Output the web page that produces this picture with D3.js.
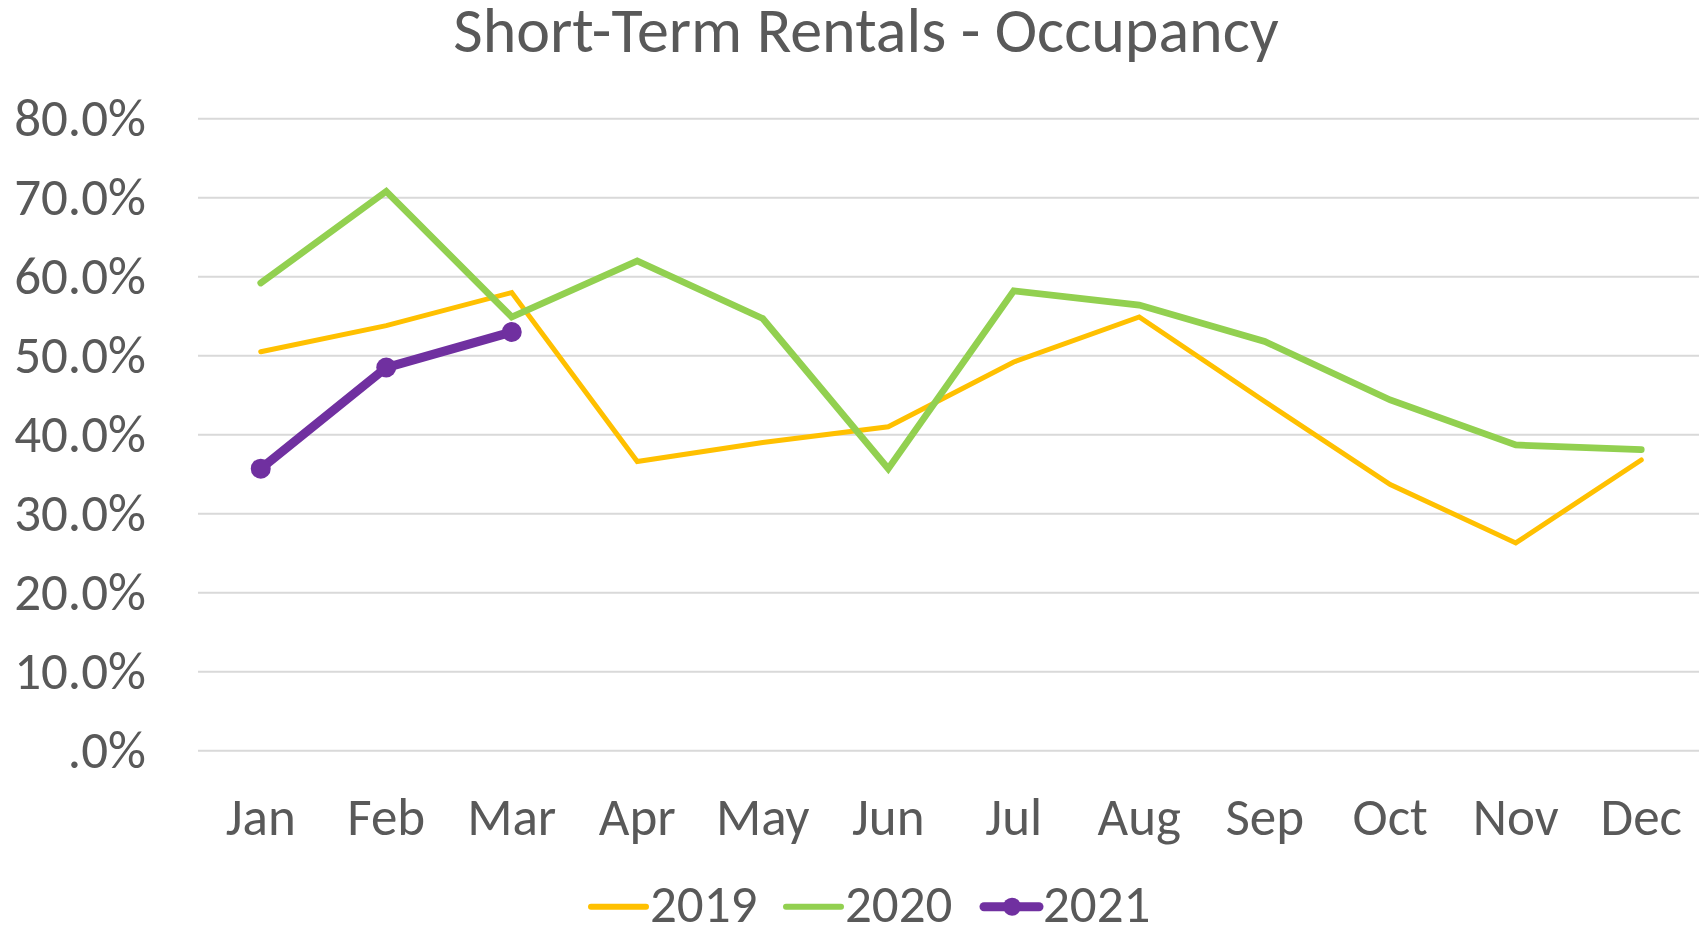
<!DOCTYPE html>
<html>
<head>
  <meta charset="utf-8">
  <script src="https://cdn.jsdelivr.net/npm/d3@7"></script>
  <style>
    body { margin: 0; background: #fff; }
    svg text { font-family: Carlito, "Open Sans", sans-serif; fill: #595959; }
  </style>
</head>
<body>
<script>
  // chart data
  var months = ["Jan", "Feb", "Mar", "Apr", "May", "Jun", "Jul", "Aug", "Sep", "Oct", "Nov", "Dec"];
  var occ2019 = [50.5, 53.8, 58.0, 36.6, 39.0, 41.0, 49.2, 54.9, 44.2, 33.7, 26.3, 36.8];
  var occ2020 = [59.2, 70.8, 54.9, 62.0, 54.7, 35.7, 58.2, 56.4, 51.8, 44.4, 38.7, 38.1];
  var occ2021 = [35.7, 48.5, 53.0];
  var yTicks = [0, 10, 20, 30, 40, 50, 60, 70, 80];
  var seriesNames = ["2019", "2020", "2021"];

  var width = 1699, height = 929;
  var colors = { "2019": "#FFC000", "2020": "#92D050", "2021": "#7030A0" };
  var strokes = { "2019": 5, "2020": 6.7, "2021": 9 };

  var svg = d3.select("body").append("svg")
    .attr("width", width)
    .attr("height", height);

  var x = d3.scaleBand().domain(months).range([198, 1704]);
  var y = d3.scaleLinear().domain([0, 80]).range([750.7, 118.7]);
  function cx(m) { return x(m) + x.bandwidth() / 2; }

  // title
  svg.append("text")
    .attr("x", 866)
    .attr("y", 52)
    .attr("text-anchor", "middle")
    .style("font-size", "64px")
    .text("Short-Term Rentals - Occupancy");

  // gridlines
  svg.append("g").selectAll("line")
    .data(yTicks)
    .enter().append("line")
    .attr("x1", 198).attr("x2", width)
    .attr("y1", function(d) { return y(d); })
    .attr("y2", function(d) { return y(d); })
    .attr("stroke", "#D9D9D9")
    .attr("stroke-width", 2);

  // y labels
  svg.append("g").selectAll("text")
    .data(yTicks)
    .enter().append("text")
    .attr("x", 146)
    .attr("y", function(d) { return y(d) + 17; })
    .attr("text-anchor", "end")
    .style("font-size", "53px")
    .text(function(d) { return d === 0 ? ".0%" : d.toFixed(1) + "%"; });

  // x labels
  svg.append("g").selectAll("text")
    .data(months)
    .enter().append("text")
    .attr("x", function(d) { return cx(d); })
    .attr("y", 835)
    .attr("text-anchor", "middle")
    .style("font-size", "53px")
    .text(function(d) { return d; });

  var line = d3.line()
    .x(function(d, i) { return cx(months[i]); })
    .y(function(d) { return y(d); });

  var series = [
    { name: "2019", values: occ2019 },
    { name: "2020", values: occ2020 },
    { name: "2021", values: occ2021 }
  ];

  svg.append("g").selectAll("path")
    .data(series)
    .enter().append("path")
    .attr("d", function(s) { return line(s.values); })
    .attr("fill", "none")
    .attr("stroke", function(s) { return colors[s.name]; })
    .attr("stroke-width", function(s) { return strokes[s.name]; })
    .attr("stroke-linecap", "round");

  // markers for 2021
  svg.append("g").selectAll("circle")
    .data(occ2021)
    .enter().append("circle")
    .attr("cx", function(d, i) { return cx(months[i]); })
    .attr("cy", function(d) { return y(d); })
    .attr("r", 10)
    .attr("fill", colors["2021"]);

  // legend
  var legendX = [591, 786, 984];
  var lg = svg.append("g").selectAll("g")
    .data(seriesNames)
    .enter().append("g")
    .attr("transform", function(d, i) { return "translate(" + legendX[i] + ",906.7)"; });
  lg.append("line")
    .attr("x1", 0).attr("x2", 55)
    .attr("stroke", function(d) { return colors[d]; })
    .attr("stroke-width", function(d) { return d === "2021" ? 9 : 6; })
    .attr("stroke-linecap", "round");
  lg.filter(function(d) { return d === "2021"; })
    .append("circle")
    .attr("cx", 28).attr("r", 9)
    .attr("fill", colors["2021"]);
  lg.append("text")
    .attr("x", 59)
    .attr("y", 15)
    .style("font-size", "53px")
    .text(function(d) { return d; });
</script>
</body>
</html>
